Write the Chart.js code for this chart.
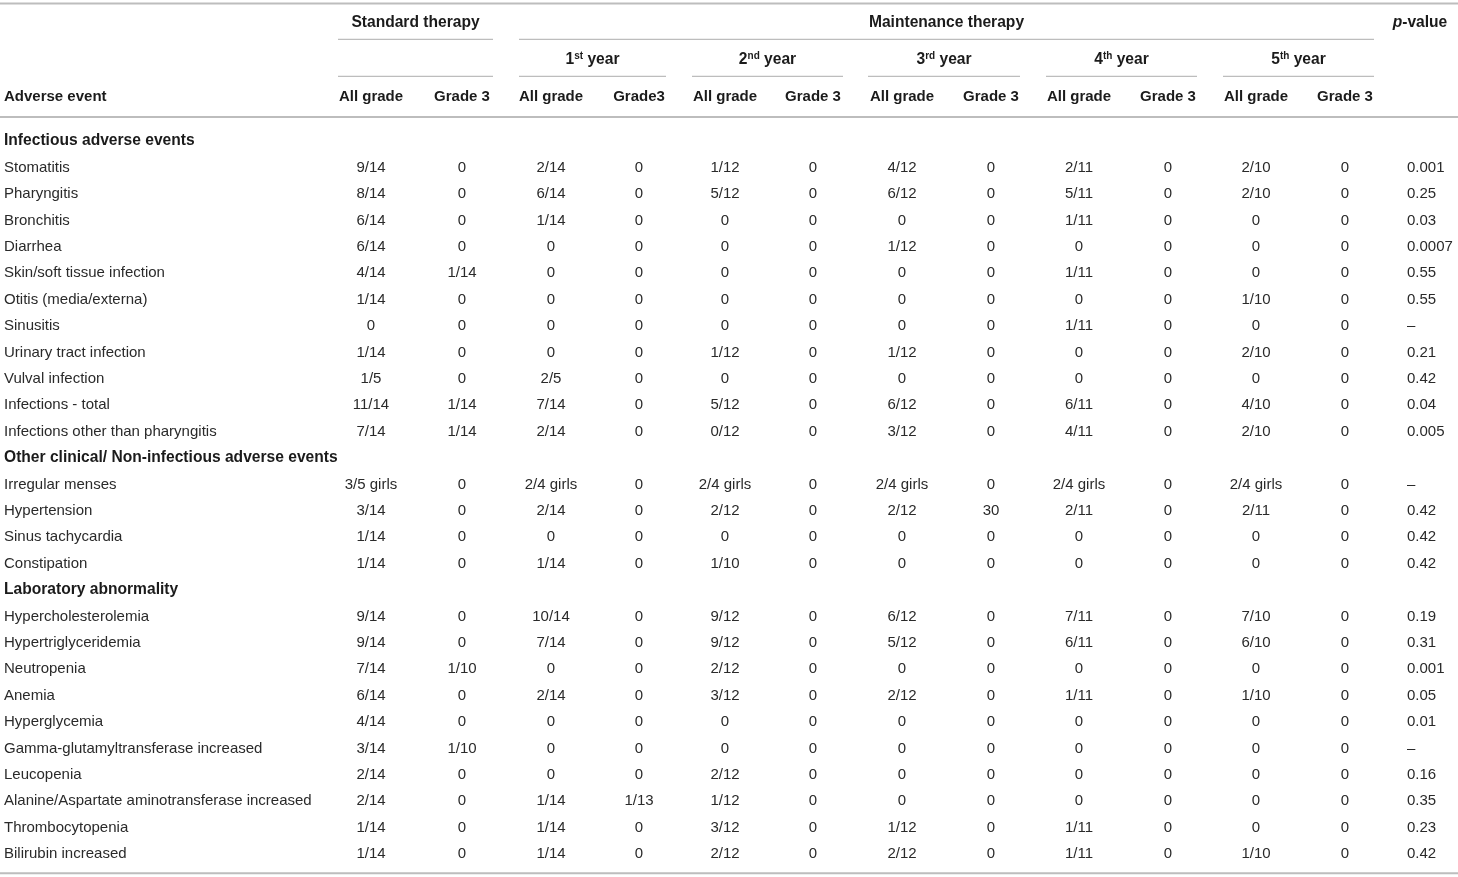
<!DOCTYPE html>
<html>
<head>
<meta charset="utf-8">
<script src="https://cdn.jsdelivr.net/npm/chart.js@4.4.1/dist/chart.umd.min.js"></script>
<style>
html, body { margin: 0; padding: 0; background: #fff; }
#wrap { width: 1458px; height: 877px; }
</style>
</head>
<body>
<div id="wrap"><canvas id="myChart"></canvas></div>
<script>
/*....table data*/
var eventNames = ['Stomatitis', 'Pharyngitis', 'Bronchitis', 'Diarrhea', 'Skin/soft tissue infection',
    'Otitis (media/externa)', 'Sinusitis', 'Urinary tract infection', 'Vulval infection', 'Infections - total',
    'Infections other than pharyngitis', 'Irregular menses', 'Hypertension', 'Sinus tachycardia', 'Constipation',
    'Hypercholesterolemia', 'Hypertriglyceridemia', 'Neutropenia', 'Anemia', 'Hyperglycemia',
    'Gamma-glutamyltransferase increased', 'Leucopenia', 'Alanine/Aspartate aminotransferase increased',
    'Thrombocytopenia', 'Bilirubin increased'];
var sections = ['Infectious adverse events', 'Other clinical/ Non-infectious adverse events', 'Laboratory abnormality'];
var sectionStart = [0, 11, 15]; // first event of each section

var stdAll = ['9/14','8/14','6/14','6/14','4/14','1/14','0','1/14','1/5','11/14','7/14','3/5 girls','3/14','1/14','1/14','9/14','9/14','7/14','6/14','4/14','3/14','2/14','2/14','1/14','1/14'];
var stdG3  = ['0','0','0','0','1/14','0','0','0','0','1/14','1/14','0','0','0','0','0','0','1/10','0','0','1/10','0','0','0','0'];
var y1All  = ['2/14','6/14','1/14','0','0','0','0','0','2/5','7/14','2/14','2/4 girls','2/14','0','1/14','10/14','7/14','0','2/14','0','0','0','1/14','1/14','1/14'];
var y1G3   = ['0','0','0','0','0','0','0','0','0','0','0','0','0','0','0','0','0','0','0','0','0','0','1/13','0','0'];
var y2All  = ['1/12','5/12','0','0','0','0','0','1/12','0','5/12','0/12','2/4 girls','2/12','0','1/10','9/12','9/12','2/12','3/12','0','0','2/12','1/12','3/12','2/12'];
var y2G3   = ['0','0','0','0','0','0','0','0','0','0','0','0','0','0','0','0','0','0','0','0','0','0','0','0','0'];
var y3All  = ['4/12','6/12','0','1/12','0','0','0','1/12','0','6/12','3/12','2/4 girls','2/12','0','0','6/12','5/12','0','2/12','0','0','0','0','1/12','2/12'];
var y3G3   = ['0','0','0','0','0','0','0','0','0','0','0','0','30','0','0','0','0','0','0','0','0','0','0','0','0'];
var y4All  = ['2/11','5/11','1/11','0','1/11','0','1/11','0','0','6/11','4/11','2/4 girls','2/11','0','0','7/11','6/11','0','1/11','0','0','0','0','1/11','1/11'];
var y4G3   = ['0','0','0','0','0','0','0','0','0','0','0','0','0','0','0','0','0','0','0','0','0','0','0','0','0'];
var y5All  = ['2/10','2/10','0','0','0','1/10','0','2/10','0','4/10','2/10','2/4 girls','2/11','0','0','7/10','6/10','0','1/10','0','0','0','0','0','1/10'];
var y5G3   = ['0','0','0','0','0','0','0','0','0','0','0','0','0','0','0','0','0','0','0','0','0','0','0','0','0'];
var pValues = ['0.001','0.25','0.03','0.0007','0.55','0.55','–','0.21','0.42','0.04','0.005','–','0.42','0.42','0.42','0.19','0.31','0.001','0.05','0.01','–','0.16','0.35','0.23','0.42'];

var groupTitles = ['Standard therapy', 'Maintenance therapy'];
var yearLabels = [['1', 'st'], ['2', 'nd'], ['3', 'rd'], ['4', 'th'], ['5', 'th']];
var gradeLabels = ['All grade', 'Grade 3', 'All grade', 'Grade3', 'All grade', 'Grade 3', 'All grade', 'Grade 3',
    'All grade', 'Grade 3', 'All grade', 'Grade 3'];

/*....layout (x in px units, y in row units)*/
var colX = [371, 462, 551, 639, 725, 813, 902, 991, 1079, 1168, 1256, 1345];
var labelX = 4, pX = 1407, pHeadX = 1420;
var stdSpan = [338, 493], maintSpan = [519, 1374];
var yearSpans = [[519, 666], [692, 843], [868, 1020], [1046, 1197], [1223, 1374]];
var rowPx = 26.4, firstRowPx = 140;
var head1 = -4.47, head2 = -3.07, head3 = -1.67;
var ruleTop = -5.17, ruleUnder1 = -3.815, ruleUnder2 = -2.41, ruleHead = -0.875, ruleBottom = 27.77;

var ink = '#2a2a2a', inkBold = '#1b1b1b', ruleColor = '#bdbdbd';
var fontFam = '"Liberation Sans", Arial, Helvetica, sans-serif';
var bodySize = 15, titleSize = 15.6, gradeSize = 15;

/*....build datasets*/
var columns = [stdAll, stdG3, y1All, y1G3, y2All, y2G3, y3All, y3G3, y4All, y4G3, y5All, y5G3];
var rowOf = [];
var labelPts = [];
var r = 0;
for (var k = 0; k < eventNames.length; k++) {
    var s = sectionStart.indexOf(k);
    if (s > -1) { labelPts.push({x: labelX, y: r, t: sections[s], bold: true}); r++; }
    labelPts.push({x: labelX, y: r, t: eventNames[k]});
    rowOf.push(r);
    r++;
}
var datasets = [{label: 'Adverse event', data: labelPts, align: 'left'}];
columns.forEach(function(col, c) {
    datasets.push({
        label: 'col' + c,
        align: 'center',
        data: col.map(function(v, i) { return {x: colX[c], y: rowOf[i], t: v}; })
    });
});
datasets.push({label: 'p-value', align: 'left',
    data: pValues.map(function(v, i) { return {x: pX, y: rowOf[i], t: v}; })});
datasets.forEach(function(d) { d.pointRadius = 0; d.showLine = false; });

function font(size, bold, italic) {
    return (italic ? 'italic ' : '') + (bold ? 'bold ' : '') + size + 'px ' + fontFam;
}

var tablePlugin = {
    id: 'tableText',
    afterDatasetsDraw: function(chart) {
        var ctx = chart.ctx, xs = chart.scales.x, ys = chart.scales.y;
        var X = function(v) { return xs.getPixelForValue(v); };
        var Y = function(v) { return ys.getPixelForValue(v); };
        var base = 5.4;
        ctx.save();
        ctx.textBaseline = 'alphabetic';

        // rules
        function rule(x0, x1, y, w, col) {
            ctx.beginPath();
            ctx.lineWidth = w;
            ctx.strokeStyle = col;
            ctx.moveTo(X(x0), Y(y));
            ctx.lineTo(X(x1), Y(y));
            ctx.stroke();
        }
        rule(0, 1458, ruleTop, 2, ruleColor);
        rule(0, 1458, ruleHead, 2, ruleColor);
        rule(0, 1458, ruleBottom, 2, ruleColor);
        rule(stdSpan[0], stdSpan[1], ruleUnder1, 1.2, ruleColor);
        rule(maintSpan[0], maintSpan[1], ruleUnder1, 1.2, ruleColor);
        rule(stdSpan[0], stdSpan[1], ruleUnder2, 1.2, ruleColor);
        yearSpans.forEach(function(sp) { rule(sp[0], sp[1], ruleUnder2, 1.2, ruleColor); });

        // header texts
        ctx.fillStyle = inkBold;
        ctx.font = font(titleSize, true);
        ctx.textAlign = 'center';
        ctx.fillText(groupTitles[0], X((stdSpan[0] + stdSpan[1]) / 2), Y(head1) + base);
        ctx.fillText(groupTitles[1], X((maintSpan[0] + maintSpan[1]) / 2), Y(head1) + base);

        // p-value header: italic p
        ctx.textAlign = 'left';
        ctx.font = font(titleSize, true, true);
        var wp = ctx.measureText('p').width;
        ctx.font = font(titleSize, true);
        var wv = ctx.measureText('-value').width;
        var px0 = X(pHeadX) - (wp + wv) / 2;
        ctx.font = font(titleSize, true, true);
        ctx.fillText('p', px0, Y(head1) + base);
        ctx.font = font(titleSize, true);
        ctx.fillText('-value', px0 + wp, Y(head1) + base);

        // year headers with superscripts
        yearLabels.forEach(function(lb, i) {
            var sp = yearSpans[i];
            ctx.font = font(titleSize, true);
            var w1 = ctx.measureText(lb[0]).width;
            var w3 = ctx.measureText(' year').width;
            ctx.font = font(10, true);
            var w2 = ctx.measureText(lb[1]).width;
            var x0 = X((sp[0] + sp[1]) / 2) - (w1 + w2 + w3) / 2;
            var yb = Y(head2) + base;
            ctx.font = font(titleSize, true);
            ctx.fillText(lb[0], x0, yb);
            ctx.font = font(10, true);
            ctx.fillText(lb[1], x0 + w1, yb - 5);
            ctx.font = font(titleSize, true);
            ctx.fillText(' year', x0 + w1 + w2, yb);
        });

        // grade headers
        ctx.font = font(gradeSize, true);
        ctx.textAlign = 'left';
        ctx.fillText('Adverse event', X(labelX), Y(head3) + base);
        ctx.textAlign = 'center';
        gradeLabels.forEach(function(g, i) { ctx.fillText(g, X(colX[i]), Y(head3) + base); });

        // cells from dataset elements
        chart.data.datasets.forEach(function(ds, di) {
            var meta = chart.getDatasetMeta(di);
            ctx.textAlign = ds.align;
            meta.data.forEach(function(el, j) {
                var raw = ds.data[j];
                ctx.font = raw.bold ? font(titleSize, true) : font(bodySize, false);
                ctx.fillStyle = raw.bold ? inkBold : ink;
                ctx.fillText(raw.t, el.x, el.y + base);
            });
        });
        ctx.restore();
    }
};

var ctx = document.getElementById('myChart').getContext('2d');
var chart = new Chart(ctx, {
    type: 'scatter',
    data: { datasets: datasets },
    options: {
        responsive: true,
        maintainAspectRatio: false,
        animation: false,
        events: [],
        layout: { padding: 0 },
        plugins: { legend: { display: false }, tooltip: { enabled: false } },
        scales: {
            x: { type: 'linear', min: 0, max: 1458, display: false },
            y: { type: 'linear', reverse: true, display: false,
                 min: -firstRowPx / rowPx, max: (877 - firstRowPx) / rowPx }
        }
    },
    plugins: [tablePlugin]
});
</script>
</body>
</html>
